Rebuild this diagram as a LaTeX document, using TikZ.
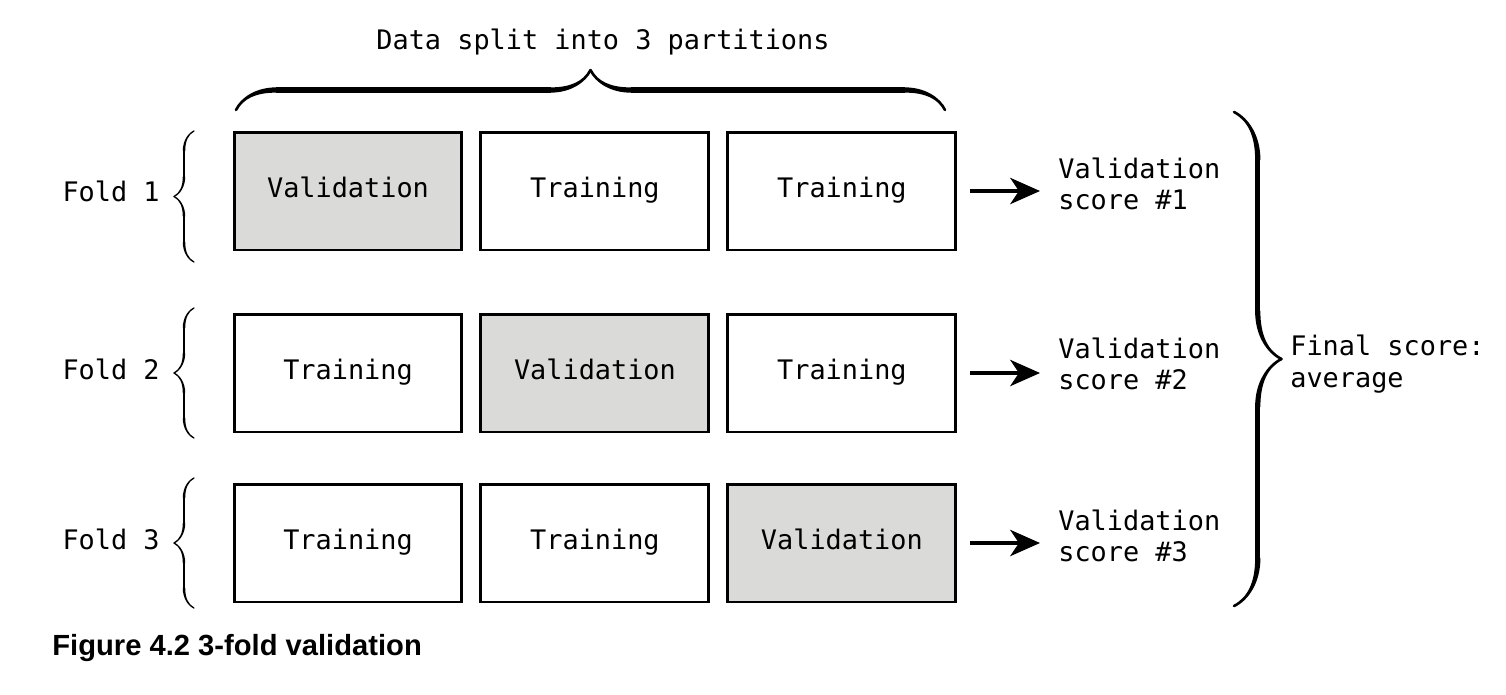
\documentclass[tikz,border=0pt]{standalone}
\usepackage{fontspec}
\setmainfont{Liberation Sans}
\setmonofont{DejaVu Sans Mono}
\usetikzlibrary{positioning,arrows.meta,decorations.pathreplacing,calligraphy}
\definecolor{valgray}{RGB}{218,219,216}

\begin{document}
\begin{tikzpicture}[x=0.02cm, y=-0.02cm, node distance=0.32cm,
  part/.style = {draw, line width=1.7pt, minimum width=4.56cm, minimum height=2.36cm, inner sep=0pt,
    text height=1.6ex, text depth=0.3ex, font=\ttfamily\fontsize{15.3}{18}\selectfont},
  val/.style = {part, fill=valgray},
  lbl/.style = {inner sep=0pt, align=left, font=\ttfamily\fontsize{15.3}{18}\selectfont},
  arr/.style = {-{Stealth[length=17pt, width=15pt, inset=5pt]}, line width=1.8pt,
    shorten <=0.26cm, shorten >=0.36cm},
  cbrace/.style = {decorate, decoration={calligraphic brace, amplitude=#1}, pen colour={black}}]
\useasboundingbox (0,0) rectangle (1506,694);

% fold 1
\node[val] (p11) at (348,191) {Validation};
\node[part] (p12) [right=of p11] {Training};
\node[part] (p13) [right=of p12] {Training};
% fold 2
\node[part] (p21) at (348,373) {Training};
\node[val] (p22) [right=of p21] {Validation};
\node[part] (p23) [right=of p22] {Training};
% fold 3
\node[part] (p31) at (348,543) {Training};
\node[part] (p32) [right=of p31] {Training};
\node[val] (p33) [right=of p32] {Validation};

\node[lbl, anchor=base east] (f1) at (160,201) {Fold 1};
\node[lbl, anchor=base east] (f2) at (160,379) {Fold 2};
\node[lbl, anchor=base east] (f3) at (160,549) {Fold 3};

\node[lbl, anchor=west] (s1) at (1058,184) {Validation\\score \#1};
\node[lbl, anchor=west] (s2) at (1058,364) {Validation\\score \#2};
\node[lbl, anchor=west] (s3) at (1058,536) {Validation\\score \#3};

\node[lbl, anchor=west] (fin) at (1290,364) {Final score:\\average};
\node[lbl] (top) at (603,42) {Data split into 3 partitions};

\draw[arr] (p13) -- (p13 -| s1.west);
\draw[arr] (p23) -- (p23 -| s2.west);
\draw[arr] (p33) -- (p33 -| s3.west);

% braces
\draw[cbrace=0.8cm, line width=3pt] (236,110) -- (945,110);
\draw[cbrace=0.4cm, line width=1.4pt] (194,262) -- (194,131);
\draw[cbrace=0.4cm, line width=1.4pt] (194,438) -- (194,308);
\draw[cbrace=0.4cm, line width=1.4pt] (194,608) -- (194,478);
\draw[cbrace=0.95cm, line width=3pt] (1234,112) -- (1234,606);

\node[anchor=base west, inner sep=0pt, font=\bfseries\fontsize{16.6}{19}\selectfont] (cap) at (52,655)
  {Figure 4.2 3-fold validation};
\end{tikzpicture}
\end{document}
